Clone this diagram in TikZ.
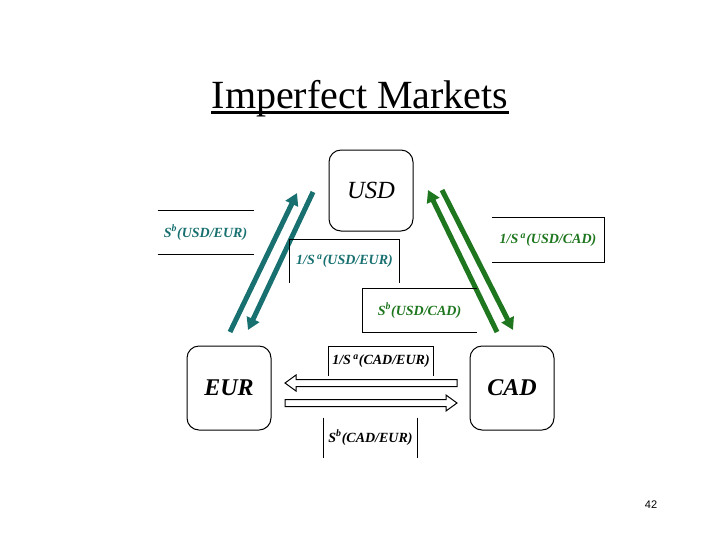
\documentclass[tikz,border=0pt]{standalone}
\usepackage{fontspec}
\setmainfont{Liberation Serif}
\newfontfamily\pagefont{Liberation Sans}
\usetikzlibrary{arrows.meta,calc}

\definecolor{tealarr}{RGB}{24,112,112}
\definecolor{greenarr}{RGB}{30,118,30}

\tikzset{every picture/.style={line width=0.75pt}}
\tikzset{
	currbox/.style={draw, rounded corners=9pt, minimum width=63pt, minimum height=63pt, inner sep=0pt, font=\fontsize{18}{18}\selectfont\bfseries\itshape},
	ratelab/.style={inner sep=0pt, font=\fontsize{10.5}{12}\selectfont\bfseries\itshape},
	fatarrow/.style={line width=3.75pt, -{Triangle[length=9pt,width=10pt]}},
	openarrow/.style={draw, fill=white, line width=0.75pt, line join=miter},
}

\begin{document}
\begin{tikzpicture}[x=0.75pt,y=0.75pt,yscale=-1,xscale=1]
	\useasboundingbox (0,0) rectangle (720,540);

	% Text Node
	\draw (360,108) node (title) [anchor=base, inner sep=0pt, font=\fontsize{30}{30}\selectfont] {Imperfect Markets};
	%Straight Lines
	\draw [line width=2.25pt] ($(title.base west)+(0,4)$) -- ($(title.base east)+(0,4)$) ;

	%Shape: Rounded Rect
	\draw (371,190.5) node (usd) [currbox, minimum height=60.75pt, font=\fontsize{18.5}{18}\selectfont\itshape] {USD};
	%Shape: Rounded Rect
	\draw (229,388) node (eur) [currbox] {EUR};
	%Shape: Rounded Rect
	\draw (512,388) node (cad) [currbox] {CAD};

	% Arrow ends
	\coordinate (ueA) at (230,332);
	\coordinate (ueB) at (297,193);
	\coordinate (ueC) at (313,192);
	\coordinate (ueD) at (248,330);
	\coordinate (ucA) at (497,332);
	\coordinate (ucB) at (428,190);
	\coordinate (ucC) at (442,190);
	\coordinate (ucD) at (513,330);
	\coordinate (ceA) at (457,383);
	\coordinate (ceB) at (285,383);
	\coordinate (ceC) at (285,403);
	\coordinate (ceD) at (457,403);

	%Straight Lines
	\draw [fatarrow, tealarr] (ueA) -- (ueB) ;
	\draw [fatarrow, tealarr] (ueC) -- (ueD) ;
	\draw [fatarrow, greenarr] (ucA) -- (ucB) ;
	\draw [fatarrow, greenarr] (ucC) -- (ucD) ;
	%Shape: Left Arrow
	\path [openarrow] ($(ceA)+(0,-3.5)$) -- ($(ceB)+(11,-3.5)$) -- ($(ceB)+(11,-8)$) -- (ceB) -- ($(ceB)+(11,8)$) -- ($(ceB)+(11,3.5)$) -- ($(ceA)+(0,3.5)$) -- cycle ;
	%Shape: Right Arrow
	\path [openarrow] ($(ceC)+(0,-3.5)$) -- ($(ceD)+(-11,-3.5)$) -- ($(ceD)+(-11,-8)$) -- (ceD) -- ($(ceD)+(-11,8)$) -- ($(ceD)+(-11,3.5)$) -- ($(ceC)+(0,3.5)$) -- cycle ;

	% Text Node
	\draw (205.5,232.5) node (sbUE) [ratelab, tealarr, minimum width=71.25pt, minimum height=32.25pt] {S\textsuperscript{b}(USD/EUR)};
	\draw (sbUE.north west) -- (sbUE.north east) (sbUE.south west) -- (sbUE.south east) ;
	% Text Node
	\draw (344.5,261) node (saUE) [ratelab, tealarr, minimum width=81.75pt, minimum height=31.5pt] {1/S\,\textsuperscript{a}(USD/EUR)};
	\draw (saUE.south west) -- (saUE.north west) -- (saUE.north east) -- (saUE.south east) ;
	% Text Node
	\draw (419.5,310.5) node (sbUC) [ratelab, greenarr, minimum width=84.75pt, minimum height=32.25pt] {S\textsuperscript{b}(USD/CAD)};
	\draw (sbUC.north east) -- (sbUC.north west) -- (sbUC.south west) -- (sbUC.south east) ;
	% Text Node
	\draw (548,240) node (saUC) [ratelab, greenarr, minimum width=84pt, minimum height=33pt] {1/S\,\textsuperscript{a}(USD/CAD)};
	\draw (saUC.north west) -- (saUC.north east) -- (saUC.south east) -- (saUC.south west) ;
	% Text Node
	\draw (381,361) node (saCE) [ratelab, minimum width=78pt, minimum height=21pt] {1/S\,\textsuperscript{a}(CAD/EUR)};
	\draw (saCE.south west) -- (saCE.north west) -- (saCE.north east) -- (saCE.south east) ;
	% Text Node
	\draw (370.5,437.5) node (sbCE) [ratelab, minimum width=69.75pt, minimum height=29.25pt] {S\textsuperscript{b}(CAD/EUR)};
	\draw (sbCE.north west) -- (sbCE.south west) (sbCE.north east) -- (sbCE.south east) ;

	% Text Node
	\draw (651,505) node (pagenum) [font=\pagefont\fontsize{8.25}{10}\selectfont] {42};

\end{tikzpicture}
\end{document}
